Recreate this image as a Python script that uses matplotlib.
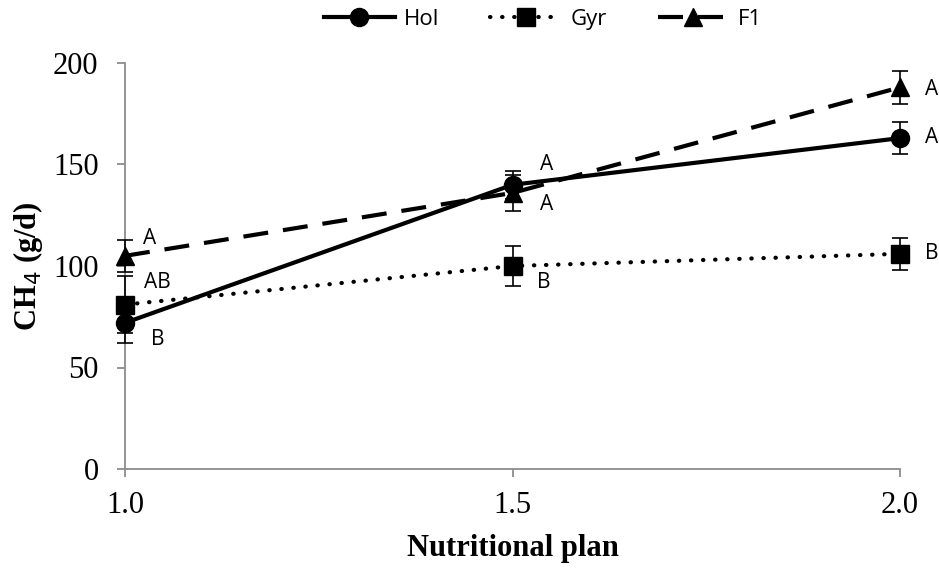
import matplotlib
matplotlib.use("Agg")
import matplotlib.pyplot as plt
from matplotlib.lines import Line2D

plan = [1.0, 1.5, 2.0]
hol = [72, 140, 163]
hol_err = [10, 7, 8]
gyr = [81, 100, 106]
gyr_err = [14, 10, 8]
f1 = [105, 136, 188]
f1_err = [8, 9, 8]
hol_lbl = ["B", "A", "A"]
gyr_lbl = ["AB", "B", "B"]
f1_lbl = ["A", "A", "A"]

serif = "Liberation Serif"
sans = "Open Sans"

DOT = (0, (0.1, 2.8))
DASH = (0, (6, 3.6))

fig = plt.figure(figsize=(9.39, 5.72), dpi=100)
ax = fig.add_axes([125/939, 1-469/572, 775/939, 406/572])

kw = dict(color="black", ecolor="black", elinewidth=1.2, capsize=6, capthick=1.2, clip_on=False)
ax.errorbar(plan, hol, yerr=hol_err, fmt="-o", lw=3, markersize=13, zorder=4, **kw)
ax.errorbar(plan, gyr, yerr=gyr_err, fmt="s", ls=DOT, lw=3, markersize=13,
            dash_capstyle="round", zorder=3, **kw)
ax.errorbar(plan, f1, yerr=f1_err, fmt="^", ls=DASH, lw=3, markersize=13, zorder=3, **kw)

# significance letters (offsets in pixels converted to points)
afs = 15
def lab(text, x, y, dx, dy):
    ax.annotate(text, (x, y), xytext=(dx * 0.72, dy * 0.72), textcoords="offset points",
                fontsize=afs, family=sans, ha="center", va="center", annotation_clip=False)

lab(f1_lbl[0], plan[0], f1[0], 25, 17)
lab(gyr_lbl[0], plan[0], gyr[0], 32, 22)
lab(hol_lbl[0], plan[0], hol[0], 33, -17)
lab(hol_lbl[1], plan[1], hol[1], 34, 20)
lab(f1_lbl[1], plan[1], f1[1], 34, -12)
lab(gyr_lbl[1], plan[1], gyr[1], 31, -17)
lab(f1_lbl[2], plan[2], f1[2], 32, -2)
lab(hol_lbl[2], plan[2], hol[2], 32, 1)
lab(gyr_lbl[2], plan[2], gyr[2], 32, 0)

ax.set_xlim(1.0, 2.0)
ax.set_ylim(0, 200)
ax.set_xticks([1.0, 1.5, 2.0])
ax.set_xticklabels(["1.0", "1.5", "2.0"])
ax.set_yticks([0, 50, 100, 150, 200])
for s in ["top", "right"]:
    ax.spines[s].set_visible(False)
for s in ["left", "bottom"]:
    ax.spines[s].set_color("#8c8c8c")
    ax.spines[s].set_linewidth(1.3)
ax.tick_params(direction="out", length=6, width=1.3, color="#8c8c8c", labelsize=22)
ax.tick_params(axis="y", pad=13)
ax.tick_params(axis="x", pad=10)
for t in ax.get_xticklabels() + ax.get_yticklabels():
    t.set_family(serif)

ax.set_xlabel("Nutritional plan", family=serif, fontsize=22, fontweight="bold", labelpad=10)
ax.set_ylabel("CH$_4$ (g/d)", family=serif, fontsize=22, fontweight="bold", labelpad=6)

handles = [
    Line2D([], [], color="black", lw=3, marker="o", markersize=13),
    Line2D([], [], color="black", lw=3, ls=DOT, marker="s", markersize=13, dash_capstyle="round"),
    Line2D([], [], color="black", lw=3, ls=DASH, marker="^", markersize=13),
]
fig.legend(handles, ["Hol", "Gyr", "F1"], loc="upper center", bbox_to_anchor=(0.578, 1.02), ncol=3,
           frameon=False, prop={"family": sans, "size": 16}, handlelength=3.2, columnspacing=2.3,
           handletextpad=0.4)

fig.savefig("out.png", dpi=100)
